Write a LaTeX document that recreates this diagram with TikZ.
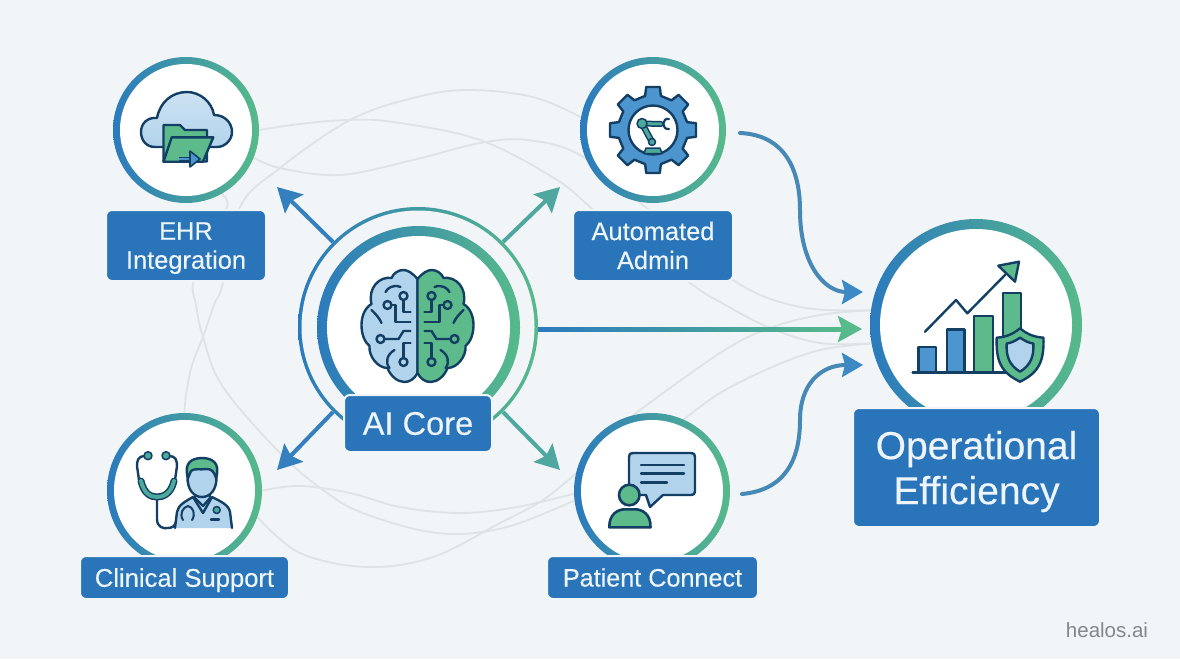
\documentclass[tikz,border=0pt]{standalone}
\usepackage{fontspec}
\setmainfont{Liberation Sans}
\newfontfamily\labfont[FakeBold=0.3]{Liberation Sans}
\usetikzlibrary{arrows.meta,backgrounds,calc}
\definecolor{bgc}{HTML}{F1F5F8}
\definecolor{ringb}{HTML}{2B7ABD}
\definecolor{ringg}{HTML}{57BA8A}
\definecolor{lab}{HTML}{2A74B9}
\definecolor{labtxt}{HTML}{EDF5FA}
\definecolor{navy}{HTML}{123F63}
\definecolor{lblue}{HTML}{B2D3EC}
\definecolor{mblue}{HTML}{4D95CF}
\definecolor{igreen}{HTML}{5DBA8B}
\definecolor{iteal}{HTML}{4DA99B}
\definecolor{faint}{HTML}{DEE3E6}
\definecolor{arrb}{HTML}{347FBE}
\definecolor{arrt}{HTML}{4FA8A0}
\definecolor{curveb}{HTML}{4688B6}
\definecolor{tipb}{HTML}{3B8AC6}
\newcommand{\nodesc}[1]{\raisebox{0pt}[\height][0pt]{#1}}
\tikzset{
  ringnode/.style={circle,inner sep=0pt,left color=ringb,right color=ringg},
  disc/.style={circle,inner sep=0pt,fill=white},
  labelbox/.style={rectangle,rounded corners=6pt,fill=lab,draw=bgc,line width=2pt,text=labtxt,align=center,inner sep=0pt},
  faintline/.style={draw=faint,line width=1.8pt,smooth,tension=0.6},
  ray/.style={line width=4pt,-{Stealth[length=24pt,width=26pt,inset=4pt]}},
  bendy/.style={draw=curveb,line width=4pt,line cap=round,-{Stealth[length=21pt,width=24pt,inset=3pt,color=tipb]}},
  ic/.style={draw=navy,line width=2.4pt,line join=round,line cap=round},
}
\newcommand{\brainout}{(0,-47) .. controls (-5,-53) and (-10,-56) .. (-14,-56) .. controls (-19,-56) and (-24,-53) .. (-26,-48) .. controls (-38,-50) and (-50,-38) .. (-46,-22) .. controls (-53,-18) and (-56,-9) .. (-56,-1) .. controls (-56,8) and (-53,16) .. (-48,20) .. controls (-49,30) and (-40,42) .. (-30,42) .. controls (-27,50) and (-20,56) .. (-13,56) .. controls (-8,56) and (-3,53) .. (0,47) -- cycle}
\newcommand{\braintraces}[1]{
  \draw[ic] (-14,-26) -- (-14,-14) -- (-7,-14);
  \draw[ic] (-26,-21) -- (-22,-21) -- (-22,-4) -- (-7,-4);
  \draw[ic] (-33,13) -- (-19,13) -- (-14,5) -- (-7,5);
  \draw[ic] (-14,32) -- (-14,17) -- (-7,17);
  \draw[ic,fill=#1] (-14,-30) circle (4);
  \draw[ic,fill=#1] (-30,-21) circle (4);
  \draw[ic,fill=#1] (-37,13) circle (4);
  \draw[ic,fill=#1] (-14,36) circle (4);
  \draw[ic] (-17,-39) .. controls (-24,-42) and (-30,-38) .. (-32,-34);
  \draw[ic] (-46,-16) .. controls (-42,-12) and (-38,-8) .. (-36,-3);
  \draw[ic] (-23,24) .. controls (-30,28) and (-33,36) .. (-28,42);
}
\begin{document}
\begin{tikzpicture}[x=1pt,y=-1pt]
\useasboundingbox (0,0) rectangle (1180,659);

% ---- circles
\node[ringnode,minimum size=146pt] (ehr) at (186,130) {};
\node[disc,minimum size=132pt] (ehrin) at (ehr.center) {};
\node[ringnode,minimum size=146pt] (auto) at (653,130) {};
\node[disc,minimum size=132pt] (autoin) at (auto.center) {};
\node[ringnode,minimum size=155pt] (clin) at (184.5,490.5) {};
\node[disc,minimum size=141pt] (clinin) at (clin.center) {};
\node[ringnode,minimum size=156pt] (pat) at (652,491) {};
\node[disc,minimum size=142pt] (patin) at (pat.center) {};
\node[ringnode,minimum size=240pt] (coreout) at (418,327) {};
\node[circle,inner sep=0pt,fill=bgc,minimum size=233pt] (coregap) at (coreout.center) {};
\node[ringnode,minimum size=203pt] (core) at (418.5,327.5) {};
\node[disc,minimum size=183pt] (corein) at (core.center) {};
\node[ringnode,minimum size=212pt] (opr) at (976,325) {};
\node[disc,minimum size=192pt] (oprin) at (opr.center) {};

% ---- faint background lines
\begin{scope}[on background layer]
\fill[bgc] (0,0) rectangle (1180,659);
\draw[faintline] plot coordinates {(ehr.0) (300,124) (347,120) (393,122) (480,140) (557,180) (600,215) (690,283) (720,302) (770,328) (820,343) (opr.190)};
\draw[faintline] plot coordinates {(ehr.-22) (280,168) (340,175) (413,160) (480,143) (527,140) (580,155) (643,205) (733,280) (800,307) (opr.172)};
\draw[faintline] plot coordinates {(clin.90) (186,395) (192,365) (203,337) (214,305) (223,283) (240,207) (280,168) (350,120) (413,98) (467,90) (533,97) (auto.170)};
\draw[faintline] plot coordinates {(ehr.-61) (227,207) (205,250) (193,283) (196,305) (203,337) (223,387) (280,453) (323,490) (363,513) (437,533) (503,528) (pat.187)};
\draw[faintline] plot coordinates {(clin.0) (300,486) (350,493) (400,507) (460,513) (517,507) (pat.182)};
\draw[faintline] plot coordinates {(clin.-20) (300,553) (367,567) (433,557) (500,523) (543,500) (pat.167)};
\draw[faintline] plot coordinates {(pat.104) (720,353) (770,328) (820,315) (opr.172)};
\draw[faintline] plot coordinates {(pat.66) (720,393) (770,368) (820,350) (opr.190)};
\end{scope}

% ---- labels
\node[labelbox,minimum width=160pt,minimum height=71pt,font=\labfont\fontsize{25.4}{29}\selectfont] (ehrl) at (186,245.5) {EHR\\\nodesc{Integration}};
\node[labelbox,minimum width=160pt,minimum height=71pt,font=\labfont\fontsize{25.4}{29}\selectfont] (autol) at (653,245.5) {Automated\\Admin};
\node[labelbox,minimum width=148pt,minimum height=57pt,font=\labfont\fontsize{32.6}{36}\selectfont] (corel) at (418,423.5) {AI Core};
\node[labelbox,minimum width=209pt,minimum height=43pt,font=\labfont\fontsize{25.6}{29}\selectfont] (clinl) at (184.5,577.5) {\nodesc{Clinical Support}};
\node[labelbox,minimum width=211pt,minimum height=43pt,font=\labfont\fontsize{25.2}{29}\selectfont] (patl) at (652.5,577.5) {Patient Connect};
\node[labelbox,minimum width=247pt,minimum height=119pt,font=\labfont\fontsize{39}{45}\selectfont] (opl) at (976.5,467.5) {Operational\\\nodesc{Efficiency}};
\node[text=black!45!bgc,font=\fontsize{20.5}{24}\selectfont,inner sep=0pt] (brand) at (1107,630) {healos.ai};

% ---- arrows from the core
\coordinate (tipehr) at (277,187);
\coordinate (tipauto) at (560,187);
\coordinate (tipclin) at (277,470);
\coordinate (tippat) at (560,470);
\coordinate (coree) at (538,329);
\coordinate (tipop1) at (863,292);
\coordinate (tipop2) at (862,329);
\coordinate (tipop3) at (863,365);
\coordinate (autoout) at (740,133);
\coordinate (patout) at (742,494);
\draw[ray,draw=arrb] (coreout.135) -- (tipehr);
\draw[ray,draw=arrt] (coreout.45) -- (tipauto);
\draw[ray,draw=arrb] (coreout.225) -- (tipclin);
\draw[ray,draw=arrt] (coreout.-45) -- (tippat);
\draw[ray,draw=ringg] (coree) -- (tipop2);
\shade[left color=ringb,right color=ringg] (538,327) rectangle (845,331);
\draw[bendy] (autoout) .. controls (785,135) and (800,170) .. (800,210) .. controls (800,265) and (825,292) .. (tipop1);
\draw[bendy] (patout) .. controls (785,490) and (800,460) .. (800,420) .. controls (800,385) and (820,365) .. (tipop3);

% ---- EHR icon
\draw[ic,top color=lblue!65!white,bottom color=lblue] (155,147) .. controls (146,147) and (141,140) .. (141,132) .. controls (141,123) and (148,117) .. (157,118) .. controls (160,102) and (172,92) .. (187,92) .. controls (200,92) and (212,102) .. (214,115) .. controls (225,115) and (232,123) .. (232,132) .. controls (232,140) and (225,147) .. (217,147) -- cycle;
\draw[ic,fill=igreen] (163.5,161.5) -- (163.5,125) -- (180,125) -- (185,130) -- (207,130) -- (207,161.5) -- cycle;
\draw[ic,fill=igreen] (171.7,137.3) -- (213.3,137.3) -- (203,161.7) -- (163.5,161.7) -- cycle;
\draw[navy,line width=5pt] (179,159) -- (192,159);
\draw[mblue,line width=2.8pt] (179,159) -- (192,159);
\draw[ic,line width=1.6pt,fill=mblue] (190,151) -- (200,159) -- (190,167) -- cycle;

% ---- gear icon
\draw[ic,fill=mblue] ([shift={(653,130)}]-13:35) \foreach \a in {0,45,...,315} {
  -- ([shift={(653,130)}]\a-13:35) -- ([shift={(653,130)}]\a-9:43.5) -- ([shift={(653,130)}]\a+9:43.5) -- ([shift={(653,130)}]\a+13:35)
} -- cycle;
\draw[ic,fill=white] (653,130) circle (24.5);
\draw[ic,fill=iteal,line width=1.5pt] (644,153.5) -- (646,148) -- (660,148) -- (662,153.5) -- cycle;
\draw[navy,line width=6.5pt,line cap=round] (642,123.5) -- (652,142);
\draw[iteal,line width=3.5pt,line cap=round] (642,123.5) -- (652,142);
\draw[navy,line width=6pt,line cap=round] (642,123.5) -- (661,124);
\draw[iteal,line width=3pt,line cap=round] (642,123.5) -- (661,124);
\draw[ic,fill=iteal,line width=1.5pt] (642,123.5) circle (5);
\draw[ic,fill=iteal,line width=1.5pt] (652,142) circle (3.5);
\draw[ic,line width=2.2pt] (669,119) .. controls (662,117) and (661,130) .. (669,129);

% ---- brain icon
\begin{scope}[shift={(417.5,326)}]
\draw[ic,fill=lblue] \brainout;
\braintraces{lblue}
\end{scope}
\begin{scope}[shift={(417.5,326)},xscale=-1]
\draw[ic,fill=igreen] \brainout;
\braintraces{igreen}
\end{scope}

% ---- doctor icon
\draw[ic] (144.5,456) .. controls (138,456) and (137,461) .. (137,466) -- (139,480);
\draw[ic] (169.5,456) .. controls (176,456) and (177,461) .. (177,466) -- (175,480);
\draw[ic,fill=iteal,line width=1.5pt] (148,455.7) circle (4);
\draw[ic,fill=iteal,line width=1.5pt] (166,455.7) circle (4);
\draw[ic] (157,500) -- (157,519) .. controls (157,527) and (163,529) .. (168,528) .. controls (172,528) and (175,526) .. (176,522);
\draw[navy,line width=7pt,line cap=round] (141,481) .. controls (144,494) and (151,497) .. (157,497) .. controls (163,497) and (171,494) .. (174,481);
\draw[iteal,line width=4pt,line cap=round] (141,481) .. controls (144,494) and (151,497) .. (157,497) .. controls (163,497) and (171,494) .. (174,481);
\fill[lblue] (175,528) -- (177,512) .. controls (178,505) and (186,501) .. (193,497) -- (212,497) .. controls (220,501) and (229,505) .. (230,512) -- (232,528) -- cycle;
\draw[ic] (175,528) -- (177,512) .. controls (178,505) and (186,501) .. (193,497) -- (203,513) -- (212,497) .. controls (220,501) and (229,505) .. (230,512) -- (232,528);
\draw[ic,fill=lblue] (195,488) -- (195,498) -- (203,506) -- (210,498) -- (210,488) -- cycle;
\draw[ic,fill=lblue] (187.5,476) .. controls (187,490) and (194,497) .. (202,497) .. controls (210,497) and (217,490) .. (216.5,476) .. controls (216,462) and (188,462) .. (187.5,476) -- cycle;
\draw[ic,fill=igreen] (188,478) .. controls (183,462) and (193,458) .. (202,458) .. controls (211,458) and (221,462) .. (216,478) .. controls (214,471) and (211,469) .. (207,469) .. controls (200,470) and (194,468) .. (191,471) -- cycle;
\draw[ic,line width=2pt] (183,520) .. controls (179,514) and (183,507) .. (188,506) .. controls (193,507) and (196,514) .. (192,520);
\draw[ic,fill=iteal,line width=1.5pt] (216.7,510) circle (3.5);
\draw[ic] (211,519.5) -- (219,519.5);

% ---- patient icon
\draw[ic,fill=lblue] (629,480) -- (629,457) .. controls (629,454) and (630,453) .. (633,453) -- (691,453) .. controls (694,453) and (695,454) .. (695,457) -- (695,491) .. controls (695,494) and (694,495) .. (691,495) -- (663,495) -- (650,507) -- (646,495) -- (629,495) -- cycle;
\draw[ic] (641,465) -- (684,465);
\draw[ic] (641,473.5) -- (684,473.5);
\draw[ic] (641,482.5) -- (667,482.5);
\draw[ic,line width=2.6pt,fill=igreen] (629.3,495) circle (10.3);
\draw[ic,line width=2.6pt,fill=igreen] (609.3,527.3) .. controls (609,514) and (618,509.3) .. (625,509.3) -- (635,509.3) .. controls (642,509.3) and (651,514) .. (650.5,527.3) -- cycle;

% ---- efficiency icon
\draw[ic,fill=mblue] (918.3,372.7) -- (918.3,346.7) -- (936,346.7) -- (936,372.7);
\draw[ic,fill=mblue] (946.7,372.7) -- (946.7,329.3) -- (964.3,329.3) -- (964.3,372.7);
\draw[ic,fill=igreen] (974,372.7) -- (974,316) -- (992.7,316) -- (992.7,372.7);
\draw[ic,fill=igreen] (1002.7,345) -- (1002.7,292.7) -- (1020.7,292.7) -- (1020.7,340);
\draw[ic,line width=2.8pt] (912.7,372.7) -- (1006.7,372.7);
\draw[ic] (925,331.7) -- (956,300) -- (967.3,313.3) -- (1005,275);
\draw[ic,fill=igreen] (998.3,265.7) -- (1019,261.7) -- (1015,281.7) -- cycle;
\draw[ic,fill=igreen] (1020,328.3) .. controls (1012,335) and (1005,337) .. (996.7,337.7) .. controls (996,360) and (1000,372) .. (1020,381.7) .. controls (1040,372) and (1044,360) .. (1043.5,337.7) .. controls (1035,337) and (1028,335) .. (1020,328.3) -- cycle;
\draw[ic,fill=lblue] (1020,337.7) .. controls (1015,341) and (1011,343) .. (1006.7,343.5) .. controls (1006,356) and (1009,365) .. (1020,371.7) .. controls (1031,365) and (1034,356) .. (1033.3,343.5) .. controls (1029,343) and (1025,341) .. (1020,337.7) -- cycle;
\end{tikzpicture}
\end{document}
